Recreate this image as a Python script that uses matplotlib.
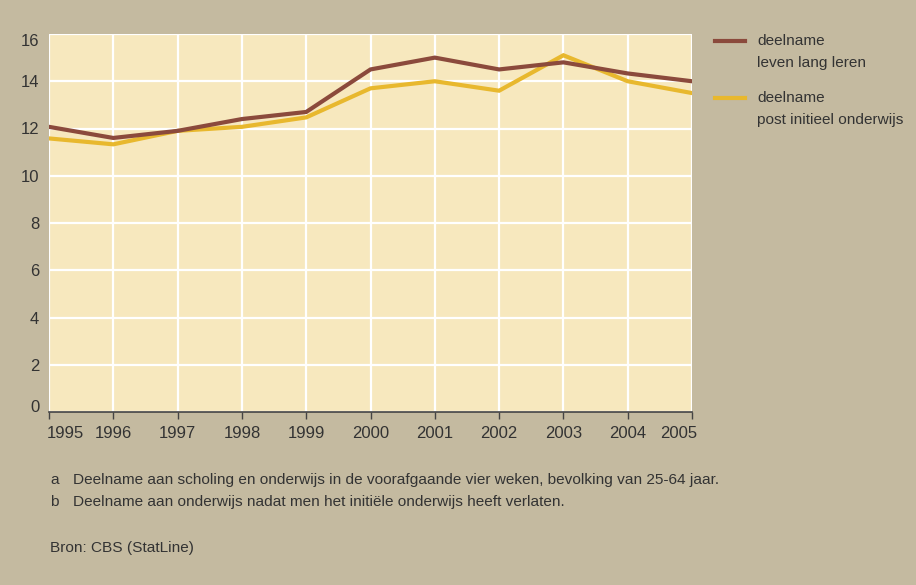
import numpy as np
import matplotlib.pyplot as plt
import matplotlib.transforms as mtransforms
from matplotlib.lines import Line2D

years = [1995, 1996, 1997, 1998, 1999, 2000, 2001, 2002, 2003, 2004, 2005]
leven_lang_leren = [12.07, 11.6, 11.9, 12.4, 12.7, 14.5, 15.0, 14.5, 14.8, 14.33, 14.0]
post_initieel = [11.58, 11.33, 11.9, 12.07, 12.47, 13.7, 14.0, 13.6, 15.1, 14.0, 13.5]
y_ticks = [0, 2, 4, 6, 8, 10, 12, 14, 16]
legend_labels = [['deelname', 'leven lang leren'], ['deelname', 'post initieel onderwijs']]
notes = [('a', 'Deelname aan scholing en onderwijs in de voorafgaande vier weken, bevolking van 25-64 jaar.'),
         ('b', 'Deelname aan onderwijs nadat men het initiële onderwijs heeft verlaten.')]
source = 'Bron: CBS (StatLine)'

BG = '#c4baa0'
FACE = '#f7e8be'
BROWN = '#8b4a3c'
YELLOW = '#e8b82e'
TXT = '#333333'
FS_TICK = 12
FS = 11.1

plt.rcParams['font.family'] = ['Liberation Sans', 'DejaVu Sans']

fig = plt.figure(figsize=(9.16, 5.85), dpi=100, facecolor=BG)
ax = fig.add_axes([49 / 916, 1 - 412 / 585, 643 / 916, 378 / 585])
ax.set_facecolor(FACE)

ax.plot(years, leven_lang_leren, color=BROWN, linewidth=3, solid_joinstyle='miter', zorder=4)
ax.plot(years, post_initieel, color=YELLOW, linewidth=3, solid_joinstyle='miter', zorder=3)

ax.set_xlim(years[0], years[-1])
ax.set_ylim(0, 16)
ax.set_xticks(years)
ax.set_yticks(y_ticks)
ax.grid(color='white', linewidth=1.6, zorder=1)
ax.set_axisbelow(True)
for side in ['top', 'right', 'left']:
    ax.spines[side].set_visible(False)
ax.spines['bottom'].set_color('#444444')
ax.spines['bottom'].set_linewidth(1.2)
ax.tick_params(axis='x', direction='out', length=5, width=1, color='#444444', labelsize=FS_TICK,
               labelcolor=TXT, pad=5)
ax.tick_params(axis='y', length=0, labelsize=FS_TICK, labelcolor=TXT, pad=7)

# end labels hug the axis ends like in the original
xlabels = ax.get_xticklabels()
xlabels[0].set_ha('left')
xlabels[0].set_transform(xlabels[0].get_transform()
                         + mtransforms.ScaledTranslation(-2 / 100, 0, fig.dpi_scale_trans))
xlabels[-1].set_ha('right')
xlabels[-1].set_transform(xlabels[-1].get_transform()
                          + mtransforms.ScaledTranslation(5 / 100, 0, fig.dpi_scale_trans))
ylabels = ax.get_yticklabels()
ylabels[-1].set_va('top')
ylabels[0].set_va('baseline')

# legend drawn by hand so the marker sits on the first line of each label
leg_y = [41, 98]
for (lines, color), y in zip(zip(legend_labels, [BROWN, YELLOW]), leg_y):
    fy = 1 - y / 585
    fig.add_artist(Line2D([715 / 916, 745 / 916], [fy, fy], color=color, linewidth=3))
    fig.text(757 / 916, fy, lines[0], fontsize=FS, color=TXT, va='center', ha='left')
    fig.text(757 / 916, fy - 22 / 585, lines[1], fontsize=FS, color=TXT, va='center', ha='left')

for i, (letter, text) in enumerate(notes):
    fy = 1 - (480 + i * 22) / 585
    fig.text(50 / 916, fy, letter, fontsize=FS, color=TXT, va='center', ha='left')
    fig.text(73 / 916, fy, text, fontsize=FS, color=TXT, va='center', ha='left')
fig.text(50 / 916, 1 - 548 / 585, source, fontsize=FS, color=TXT, va='center', ha='left')

fig.savefig('out.png', dpi=100, facecolor=BG)
